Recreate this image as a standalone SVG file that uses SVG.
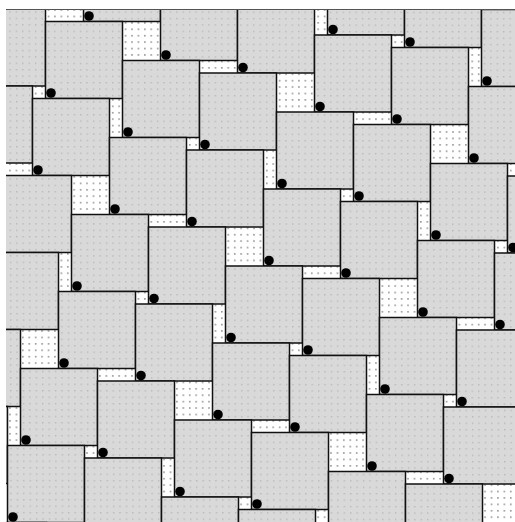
<svg xmlns="http://www.w3.org/2000/svg" width="515" height="522" viewBox="0 0 515 522">
<style>
.sq{fill:url(#gp);stroke:#111;stroke-width:1.5}
.dt{fill:#000}
</style>
<defs>
<pattern id="wp" patternUnits="userSpaceOnUse" width="6.42" height="6.42"><rect width="6.42" height="6.42" fill="#fff"/><rect x="3" y="3" width="1.2" height="1.2" fill="#444"/></pattern>
<pattern id="gp" patternUnits="userSpaceOnUse" width="6.42" height="6.42"><rect width="6.42" height="6.42" fill="#d9d9d9"/><rect x="3" y="3" width="1" height="1" fill="#9a9a9a"/></pattern>
<clipPath id="clip"><rect x="6" y="9" width="509" height="513"/></clipPath>
<g id="cell">
<rect class="sq" x="0" y="-77" width="77" height="77"/>
<rect class="sq" x="77" y="-38" width="77" height="77"/>
<rect class="sq" x="-38" y="0" width="77" height="77"/>
<rect class="sq" x="39" y="39" width="77" height="77"/>
<circle class="dt" cx="5.5" cy="-5.5" r="4.8"/>
<circle class="dt" cx="82.5" cy="33.5" r="4.8"/>
<circle class="dt" cx="-32.5" cy="71.5" r="4.8"/>
<circle class="dt" cx="44.5" cy="110.5" r="4.8"/>
</g>
</defs>
<rect width="515" height="522" fill="#fff"/>
<g id="tiling" clip-path="url(#clip)">
<rect x="6" y="9" width="509" height="513" fill="url(#wp)"/>
<use href="#cell" transform="translate(288.5,-81)"/>
<use href="#cell" transform="translate(442.5,-29.5)"/>
<use href="#cell" transform="translate(-70.5,-30)"/>
<use href="#cell" transform="translate(83.5,21.5)"/>
<use href="#cell" transform="translate(237.5,73)"/>
<use href="#cell" transform="translate(391.5,124.5)"/>
<use href="#cell" transform="translate(545.5,176)"/>
<use href="#cell" transform="translate(-121.5,124)"/>
<use href="#cell" transform="translate(32.5,175.5)"/>
<use href="#cell" transform="translate(186.5,227)"/>
<use href="#cell" transform="translate(340.5,278.5)"/>
<use href="#cell" transform="translate(494.5,330)"/>
<use href="#cell" transform="translate(-18.5,329.5)"/>
<use href="#cell" transform="translate(135.5,381)"/>
<use href="#cell" transform="translate(289.5,432.5)"/>
<use href="#cell" transform="translate(443.5,484)"/>
<use href="#cell" transform="translate(-69.5,483.5)"/>
<use href="#cell" transform="translate(84.5,535)"/>
<use href="#cell" transform="translate(238.5,586.5)"/>
</g>
<line x1="6" y1="9.5" x2="515" y2="9.5" stroke="#555" stroke-width="1"/>
</svg>
